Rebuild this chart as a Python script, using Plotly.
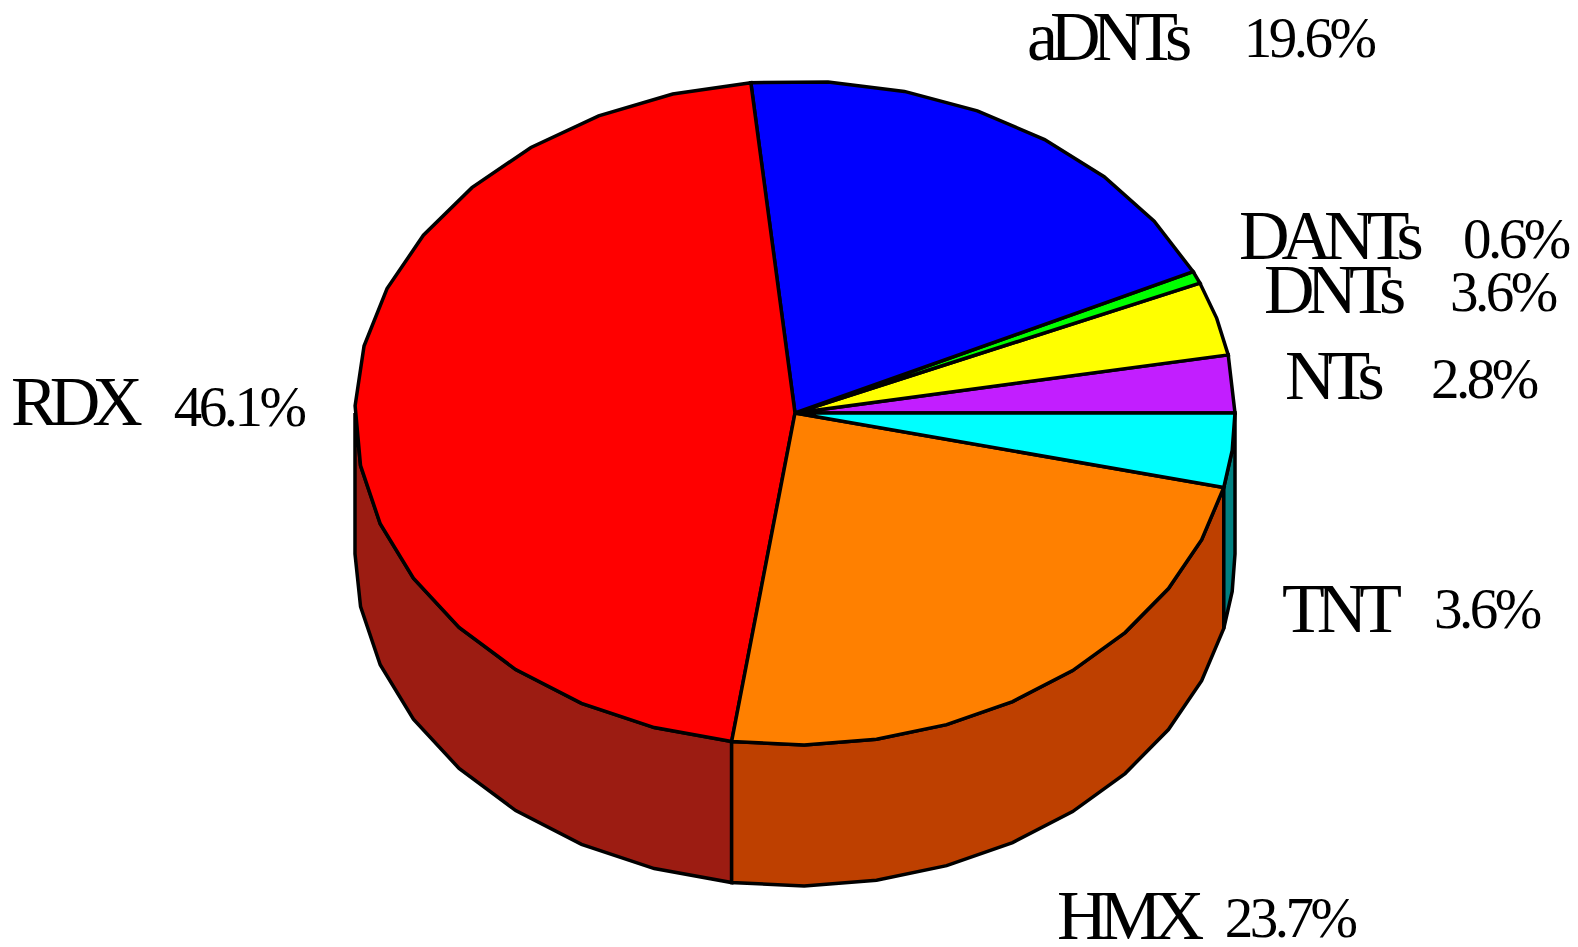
import math
import plotly.graph_objects as go

# ---- data ----
labels = ["NTs", "DNTs", "DANTs", "aDNTs", "RDX", "HMX", "TNT"]
values = [2.8, 3.6, 0.6, 19.6, 46.1, 23.7, 3.6]

# ---- styles ----
top_colors = ["#C21EFF", "#FFFF00", "#00FF00", "#0000FF", "#FF0000", "#FF8000", "#00FFFF"]
side_colors = ["#8A15B5", "#B5B500", "#00B500", "#0000A0", "#9C1C12", "#BE4000", "#008080"]

# label placement (pixel centres)
name_pos = [(1335, 375), (1335, 289), (1331, 235), (1109, 36), (77, 401), (1130, 915), (1342, 608)]
pct_pos = [(1485, 378), (1504, 291), (1517, 238), (1310, 37), (240, 406), (1291, 917), (1488, 608)]

W, H = 1578, 947
CX, CY, RX, RY, DEPTH = 795, 413, 440, 332, 141
STEP = 10.6


def pt(a):
    r = math.radians(a)
    return CX + RX * math.cos(r), CY - RY * math.sin(r)


total = sum(values)
slices = []
a0 = 0.0
for v in values:
    span = 360.0 * v / total
    n = max(1, math.ceil(span / STEP - 1e-9))
    angs = [a0 + span * k / n for k in range(n + 1)]
    slices.append(angs)
    a0 += span

fig = go.Figure()

# side walls (front half)
for angs, sc in zip(slices, side_colors):
    lo, hi = angs[0], angs[-1]
    wall = [a for a in angs if 180 <= a <= 360]
    if lo < 180 < hi:
        wall.append(180.0)
    wall = sorted(set(round(a, 6) for a in wall))
    if len(wall) < 2:
        continue
    xs, ys = [], []
    for a in wall:
        x, y = pt(a)
        xs.append(x); ys.append(y)
    for a in reversed(wall):
        x, y = pt(a)
        xs.append(x); ys.append(y + DEPTH)
    xs.append(xs[0]); ys.append(ys[0])
    fig.add_trace(go.Scatter(x=xs, y=ys, mode="lines", fill="toself", fillcolor=sc,
                             line=dict(color="black", width=3.5), hoverinfo="skip", showlegend=False))

# top faces
for angs, tc in zip(slices, top_colors):
    xs, ys = [CX], [CY]
    for a in angs:
        x, y = pt(a)
        xs.append(x); ys.append(y)
    xs.append(CX); ys.append(CY)
    fig.add_trace(go.Scatter(x=xs, y=ys, mode="lines", fill="toself", fillcolor=tc,
                             line=dict(color="black", width=3.5), hoverinfo="skip", showlegend=False))

annotations = []
for lab, v, (nx, ny), (px, py) in zip(labels, values, name_pos, pct_pos):
    annotations.append(dict(x=nx - 4, y=ny, text=lab, showarrow=False, xanchor="center", yanchor="middle",
                            font=dict(family="Liberation Serif", size=70, color="black")))
    annotations.append(dict(x=px - 1.5, y=py, text=f"{v:.1f}%", showarrow=False, xanchor="center", yanchor="middle",
                            font=dict(family="Liberation Serif", size=57, color="black")))

fig.update_layout(
    width=W, height=H, margin=dict(l=0, r=0, t=0, b=0),
    paper_bgcolor="white", plot_bgcolor="white",
    xaxis=dict(range=[0, W], visible=False, fixedrange=True),
    yaxis=dict(range=[H, 0], visible=False, fixedrange=True),
    annotations=annotations,
)

js = """
function lsFix(){document.querySelectorAll('.annotation-text').forEach(function(t){
 t.style.letterSpacing = (t.textContent.indexOf('%')>=0) ? '-3.5px' : '-8px';});}
lsFix(); setTimeout(lsFix, 0);
var gdx=document.getElementById('{plot_id}'); if(gdx && gdx.on){gdx.on('plotly_afterplot', lsFix);}
"""

fig.write_html("out.html", config=dict(displayModeBar=False, staticPlot=True), post_script=js)
